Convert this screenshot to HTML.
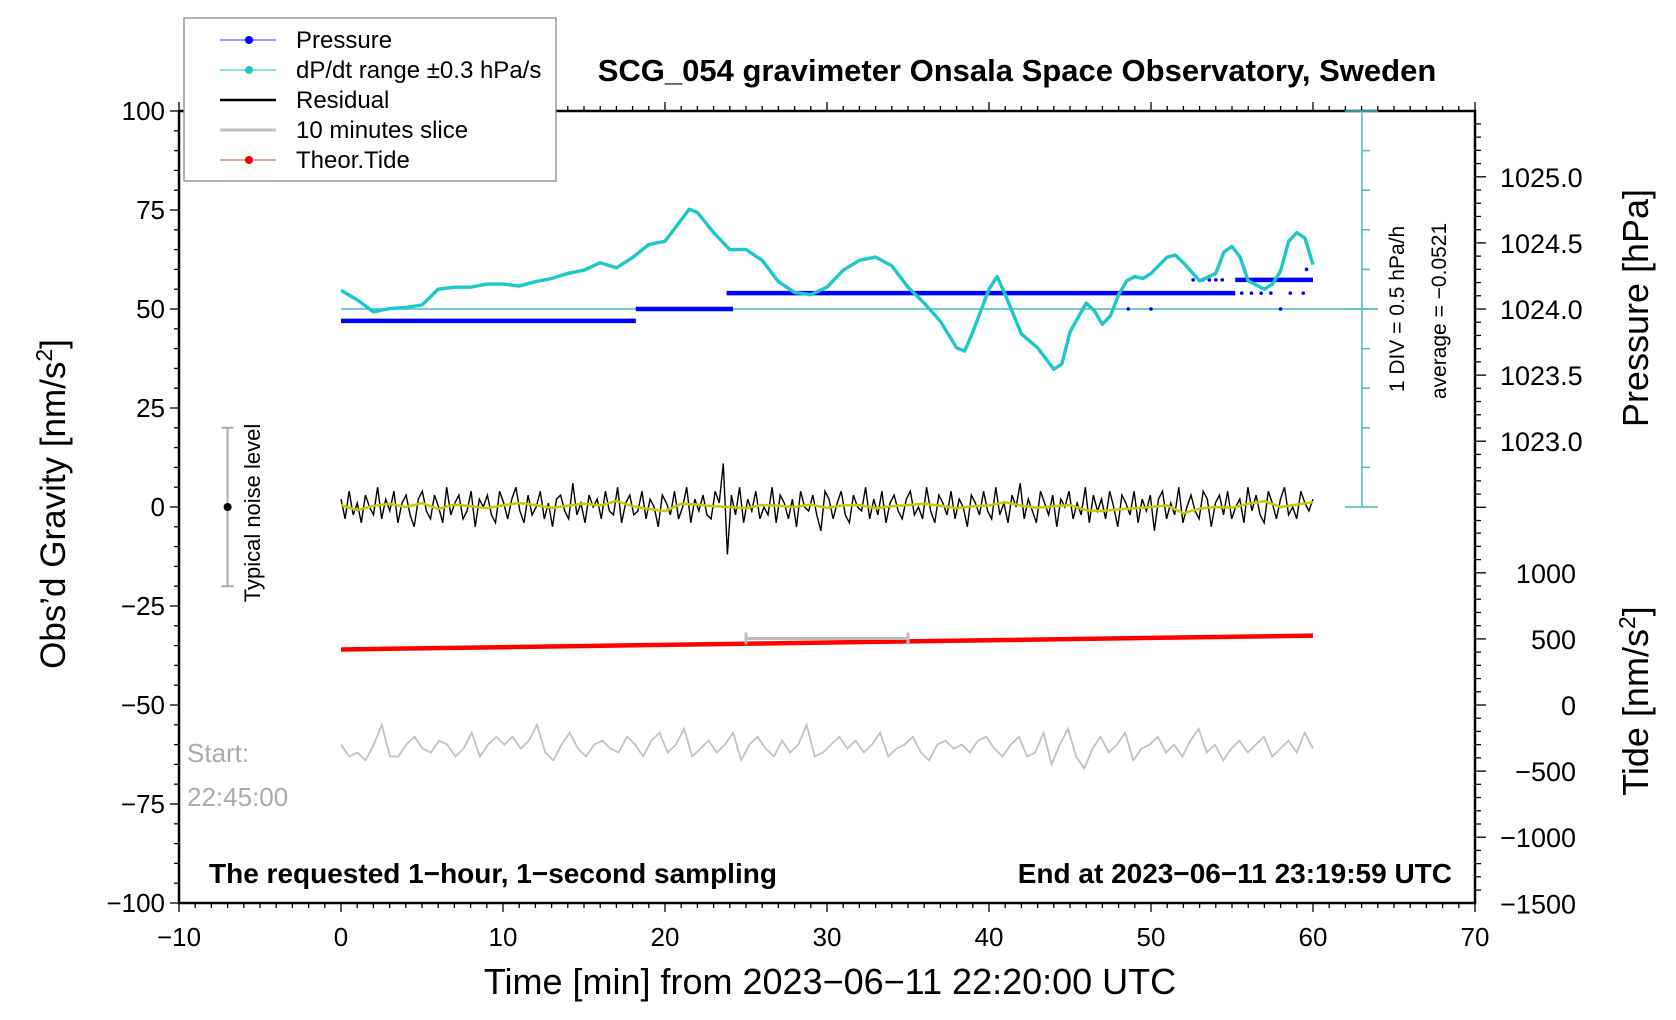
<!DOCTYPE html>
<html><head><meta charset="utf-8"><style>
html,body{margin:0;padding:0;background:#fff;}
svg{display:block;font-family:"Liberation Sans",sans-serif;}
</style></head><body>
<svg id="chart" width="1676" height="1020" viewBox="0 0 1676 1020" xmlns="http://www.w3.org/2000/svg">
<g id="layer"></g>
</svg>
<script>
// ---- data ----
const pressSegT0 = [0, 18.2, 23.8, 55.2];
const pressSegT1 = [18.2, 24.2, 55.2, 60];
const pressSegV = [1023.91, 1024.0, 1024.12, 1024.22];
const pressDotT = [48.6, 50, 52.6, 53.2, 53.6, 54, 54.4, 55.6, 56.2, 56.8, 57.4, 58, 58.6, 59.4, 59.6];
const pressDotV = [1024.0, 1024.0, 1024.22, 1024.22, 1024.22, 1024.22, 1024.22, 1024.12, 1024.12, 1024.12, 1024.12, 1024.0, 1024.12, 1024.12, 1024.3];
const dpT = [0,1,2,3,4,5,6,7,8,9,10,11,12,13,14,15,16,17,18,19,20,21,21.5,22,23,24,25,26,27,28,29,30,31,32,33,34,35,36,37,38,38.5,39,40,40.5,41,42,43,44,44.5,45,46,46.5,47,47.5,48,48.5,49,49.5,50,51,51.5,52,53,54,54.5,55,55.5,56,57,57.5,58,58.5,59,59.5,60];
const dpV = [54.7,52.3,49.3,50.1,50.4,51,55,55.5,55.5,56.3,56.3,55.8,56.9,57.7,59,59.8,61.7,60.4,63,66.3,67.1,72.5,75.2,74.4,69.3,65,65,62.3,56.9,54.2,53.6,55.5,59.8,62.3,63.1,60.9,55.5,51.5,46.9,40.2,39.4,44.2,55,58.2,53.6,43.7,40.2,34.8,36.1,44.2,51.5,49.6,46.1,48.3,53.6,57.1,58.2,57.7,59,63.1,63.6,61.7,57.1,59,64.4,65.8,63.1,57.1,55,56.3,59.6,67.1,69.3,67.9,61.2];
const residual = [2,-3,4,-2,1,-4,3,0,-2,5,-3,2,-1,4,-4,1,3,-2,-5,2,
 4,-1,-3,3,0,-4,5,-2,1,3,-3,-1,4,-5,2,0,3,-2,-4,4,
 1,-3,2,5,-1,-4,3,-2,0,4,-3,1,-5,2,3,-1,-3,6,-2,1,
 -4,3,0,2,-3,4,-1,-2,5,-4,1,3,-2,-1,4,-3,2,0,-5,3,
 1,-2,4,-3,0,5,-4,2,-1,3,-2,-3,4,1,11,-12,3,-2,5,-4,
 2,-1,4,-3,0,-2,5,-4,3,1,-3,2,-5,4,0,-1,3,-2,-6,4,
 2,-3,1,4,-2,-4,3,0,-1,5,-3,2,-2,4,-4,1,3,-1,-3,2,
 4,-2,0,-3,5,-1,-4,3,1,-2,4,-3,2,0,-5,3,1,-2,4,-1,
 -3,5,-2,1,-4,3,0,6,-3,2,-1,-4,4,1,-2,3,-5,2,0,4,
 -3,1,-2,5,-4,3,-1,2,-3,4,0,-5,3,1,-2,4,-4,2,-1,3,
 -6,2,4,-3,1,-2,5,-4,0,3,-1,-3,4,2,-5,1,3,-2,4,-3,
 0,2,-4,5,-1,3,-2,-4,4,1,-3,2,5,-2,0,-3,4,1,-1,2];
const smooth = [0.5,-0.8,0.3,0.8,0,1,-0.5,0.6,0.2,-0.3,0.4,1,0.5,-0.2,0.3,0.8,0.4,1.5,0.2,-0.5,
 -1,0.8,0.6,0.2,0,-0.3,0.5,0.3,0,0.6,-0.2,0.4,0.5,-0.3,0.2,0.5,0.8,0.3,-0.3,0.2,
 0.4,1.2,0.3,-0.2,0.2,0.5,-0.8,-1,-0.6,-0.3,0,0.4,-1.6,-0.4,0,-0.2,0.8,1.5,0,0.6,1.2];
const slice = [-60,-63,-62,-64,-60,-55,-63,-63,-60,-58,-61,-62,-59,-60,-63,-61,-57,-63,-60,-58,
 -60,-58,-61,-59,-55,-62,-64,-60,-57,-61,-63,-60,-59,-61,-62,-58,-60,-63,-59,-57,
 -62,-60,-56,-63,-61,-59,-62,-60,-57,-64,-60,-58,-61,-63,-59,-62,-60,-55,-63,-62,
 -60,-58,-61,-59,-62,-60,-57,-63,-61,-60,-58,-62,-64,-60,-59,-61,-60,-62,-59,-58,
 -61,-63,-60,-58,-63,-62,-57,-65,-60,-56,-63,-66,-61,-58,-62,-60,-57,-64,-61,-60,
 -58,-62,-60,-63,-59,-56,-62,-60,-64,-61,-59,-62,-60,-58,-63,-61,-59,-62,-57,-61];
const tideT = [0, 60];
const tideV = [420, 525];
const xTicks = [-10,0,10,20,30,40,50,60,70];
const yTicks = [100,75,50,25,0,-25,-50,-75,-100];
const pTicks = [1025.0,1024.5,1024.0,1023.5,1023.0];
const tTicks = [1000,500,0,-500,-1000,-1500];

// ---- axes ----
const L=179,R=1475,T=111,B=903;
const X = t => L + (t+10)*(R-L)/80;
const Y = g => T + (100-g)*(B-T)/200;
const YP = p => Y(50) - (p-1024)*132.2;
const YT = v => Y(-50) - v*0.1322;
const NS="http://www.w3.org/2000/svg";
const layer=document.getElementById('layer');
function el(tag, attrs, text){
  const e=document.createElementNS(NS,tag);
  for(const k in attrs) e.setAttribute(k,attrs[k]);
  if(text!==undefined) e.textContent=text;
  layer.appendChild(e); return e;
}
function pathFrom(xs, ys){ return xs.map((x,i)=>(i?'L':'M')+x.toFixed(1)+','+ys[i].toFixed(1)).join(''); }

let e;
e=el('rect',{x:L,y:T,width:R-L,height:B-T,fill:'none',stroke:'#000','stroke-width':2.5});



for(let t=-10;t<=70;t++){
  const major=t%10===0;
  const len=major?9:5;
  e=el('line',{x1:X(t),x2:X(t),y1:B,y2:B+len,stroke:'#000','stroke-width':1.3});
  
  
  e=el('line',{x1:X(t),x2:X(t),y1:T,y2:T-len,stroke:'#000','stroke-width':1.3});
  
  
}
xTicks.forEach(t=>{
  e=el('text',{x:X(t),y:B+43,'text-anchor':'middle','font-size':26},String(t).replace('-','\u2212'));
  
  
});
for(let g=-100;g<=100;g+=5){
  const major=g%25===0;
  e=el('line',{x1:L-(major?9:5),x2:L,y1:Y(g),y2:Y(g),stroke:'#000','stroke-width':1.3});
  
  
}
yTicks.forEach(g=>{
  e=el('text',{x:L-14,y:Y(g)+9,'text-anchor':'end','font-size':26},String(g).replace('-','\u2212'));
  
  
});
for(let p=1022.1;p<=1025.55;p+=0.1){
  const y=YP(p); if(y<T||y>Y(0)+15) continue;
  const major=Math.abs(Math.round(p*2)-p*2)<0.01;
  e=el('line',{x1:R,x2:R+(major?11:6),y1:y,y2:y,stroke:'#000','stroke-width':1.3});
  
  
}
pTicks.forEach(p=>{
  e=el('text',{x:1500,y:YP(p)+10,'font-size':27},p.toFixed(1));
  
  
});
for(let v=-1500;v<=1300;v+=100){
  const y=YT(v); if(y>B||y<Y(0)+15) continue;
  const major=v%500===0;
  e=el('line',{x1:R,x2:R+(major?11:6),y1:y,y2:y,stroke:'#000','stroke-width':1.3});
  
  
}
tTicks.forEach(v=>{
  e=el('text',{x:1576,y:YT(v)+10,'text-anchor':'end','font-size':27},String(v).replace('-','\u2212'));
  
  
});

const cx=1362;
e=el('line',{x1:cx,x2:cx,y1:T,y2:Y(0),stroke:'#4cbcbc','stroke-width':1.5});


for(let i=0;i<=10;i++){
  const y=T+i*(Y(0)-T)/10;
  const maj=(i===0||i===5||i===10);
  e=el('line',{x1:maj?1345:cx,x2:maj?1378:1370,y1:y,y2:y,stroke:'#4cbcbc','stroke-width':1.5});
  
  
}
e=el('line',{x1:X(0),x2:1378,y1:Y(50),y2:Y(50),stroke:'#4cbcbc','stroke-width':1.5});


e=el('text',{transform:'translate(1404,309) rotate(-90)','text-anchor':'middle','font-size':21},'1 DIV = 0.5 hPa/h');


e=el('text',{transform:'translate(1446,311) rotate(-90)','text-anchor':'middle','font-size':21},'average = \u22120.0521');



pressSegV.forEach((p,i)=>{
  e=el('line',{x1:X(pressSegT0[i]),x2:X(pressSegT1[i]),y1:YP(p),y2:YP(p),stroke:'#0000ff','stroke-width':4.5});
  
  
});
pressDotT.forEach((t,i)=>{
  e=el('circle',{cx:X(t),cy:YP(pressDotV[i]),r:1.8,fill:'#0000ff'});
  
  
});
e=el('path',{d:pathFrom(dpT.map(X),dpV.map(Y)),fill:'none',stroke:'#1ec8c8','stroke-width':3.4,'stroke-linejoin':'round'});


e=el('path',{d:pathFrom(residual.map((v,i)=>X(i*60/(residual.length-1))),residual.map(Y)),fill:'none',stroke:'#000','stroke-width':1.4});


e=el('path',{d:pathFrom(smooth.map((v,i)=>X(i*60/(smooth.length-1))),smooth.map(Y)),fill:'none',stroke:'#c8c800','stroke-width':2.5});


e=el('path',{d:pathFrom(tideT.map(X),tideV.map(YT)),fill:'none',stroke:'#ff0000','stroke-width':4.5});


const sy=Y(-33.2);
e=el('path',{d:`M${X(25)},${sy-6}V${sy+6}M${X(25)},${sy}H${X(35)}M${X(35)},${sy-6}V${sy+6}`,fill:'none',stroke:'#bbb','stroke-width':3});


e=el('path',{d:pathFrom(slice.map((v,i)=>X(i*60/(slice.length-1))),slice.map(Y)),fill:'none',stroke:'#c0c0c0','stroke-width':1.8});


const nx=X(-7);
e=el('path',{d:`M${nx},${Y(20)}V${Y(-20)}M${nx-6},${Y(20)}H${nx+6}M${nx-6},${Y(-20)}H${nx+6}`,fill:'none',stroke:'#aaa','stroke-width':2});


e=el('circle',{cx:nx,cy:Y(0),r:4,fill:'#000'});


e=el('text',{transform:`translate(260,${Y(0)+6}) rotate(-90)`,'text-anchor':'middle','font-size':22},'Typical noise level');


</script>
<div style="position:absolute;left:0;top:0;width:1676px;height:1020px;pointer-events:none">
<svg width="1676" height="1020" style="font-family:'Liberation Sans',sans-serif">
<text x="1017" y="81" text-anchor="middle" font-size="31" font-weight="bold">SCG_054 gravimeter Onsala Space Observatory, Sweden</text>
<text transform="translate(65,504) rotate(-90)" text-anchor="middle" font-size="35">Obs’d Gravity [nm/s<tspan baseline-shift="super" font-size="23">2</tspan>]</text>
<text x="830" y="994" text-anchor="middle" font-size="36">Time [min] from 2023−06−11 22:20:00 UTC</text>
<text transform="translate(1648,308) rotate(-90)" text-anchor="middle" font-size="36">Pressure [hPa]</text>
<text transform="translate(1648,701) rotate(-90)" text-anchor="middle" font-size="36">Tide [nm/s<tspan baseline-shift="super" font-size="23">2</tspan>]</text>
<text x="187" y="762" font-size="26" fill="#aaa">Start:</text>
<text x="187" y="806" font-size="26" fill="#aaa">22:45:00</text>
<text x="209" y="883" font-size="28" font-weight="bold">The requested 1−hour, 1−second sampling</text>
<text x="1452" y="883" text-anchor="end" font-size="28" font-weight="bold">End at 2023−06−11 23:19:59 UTC</text>
<g>
<rect x="184" y="18" width="372" height="163" fill="#fff" stroke="#888" stroke-width="1.3"/>
<g><line x1="220" x2="276" y1="40" y2="40" stroke="#6060ff" stroke-width="1.2"/><circle cx="249" cy="40" r="4" fill="#0000ff"/><text x="296" y="48" font-size="24">Pressure</text></g>
<g><line x1="220" x2="276" y1="70" y2="70" stroke="#40d0d0" stroke-width="1.2"/><circle cx="249" cy="70" r="4" fill="#1ec8c8"/><text x="296" y="78" font-size="24">dP/dt range ±0.3 hPa/s</text></g>
<g><line x1="220" x2="276" y1="100" y2="100" stroke="#000" stroke-width="2.5"/><text x="296" y="108" font-size="24">Residual</text></g>
<g><line x1="220" x2="276" y1="130" y2="130" stroke="#c0c0c0" stroke-width="3"/><text x="296" y="138" font-size="24">10 minutes slice</text></g>
<g><line x1="220" x2="276" y1="160" y2="160" stroke="#ff6060" stroke-width="1.2"/><circle cx="249" cy="160" r="4" fill="#ff0000"/><text x="296" y="168" font-size="24">Theor.Tide</text></g>
</g>
</svg>
</div>
</body></html>
